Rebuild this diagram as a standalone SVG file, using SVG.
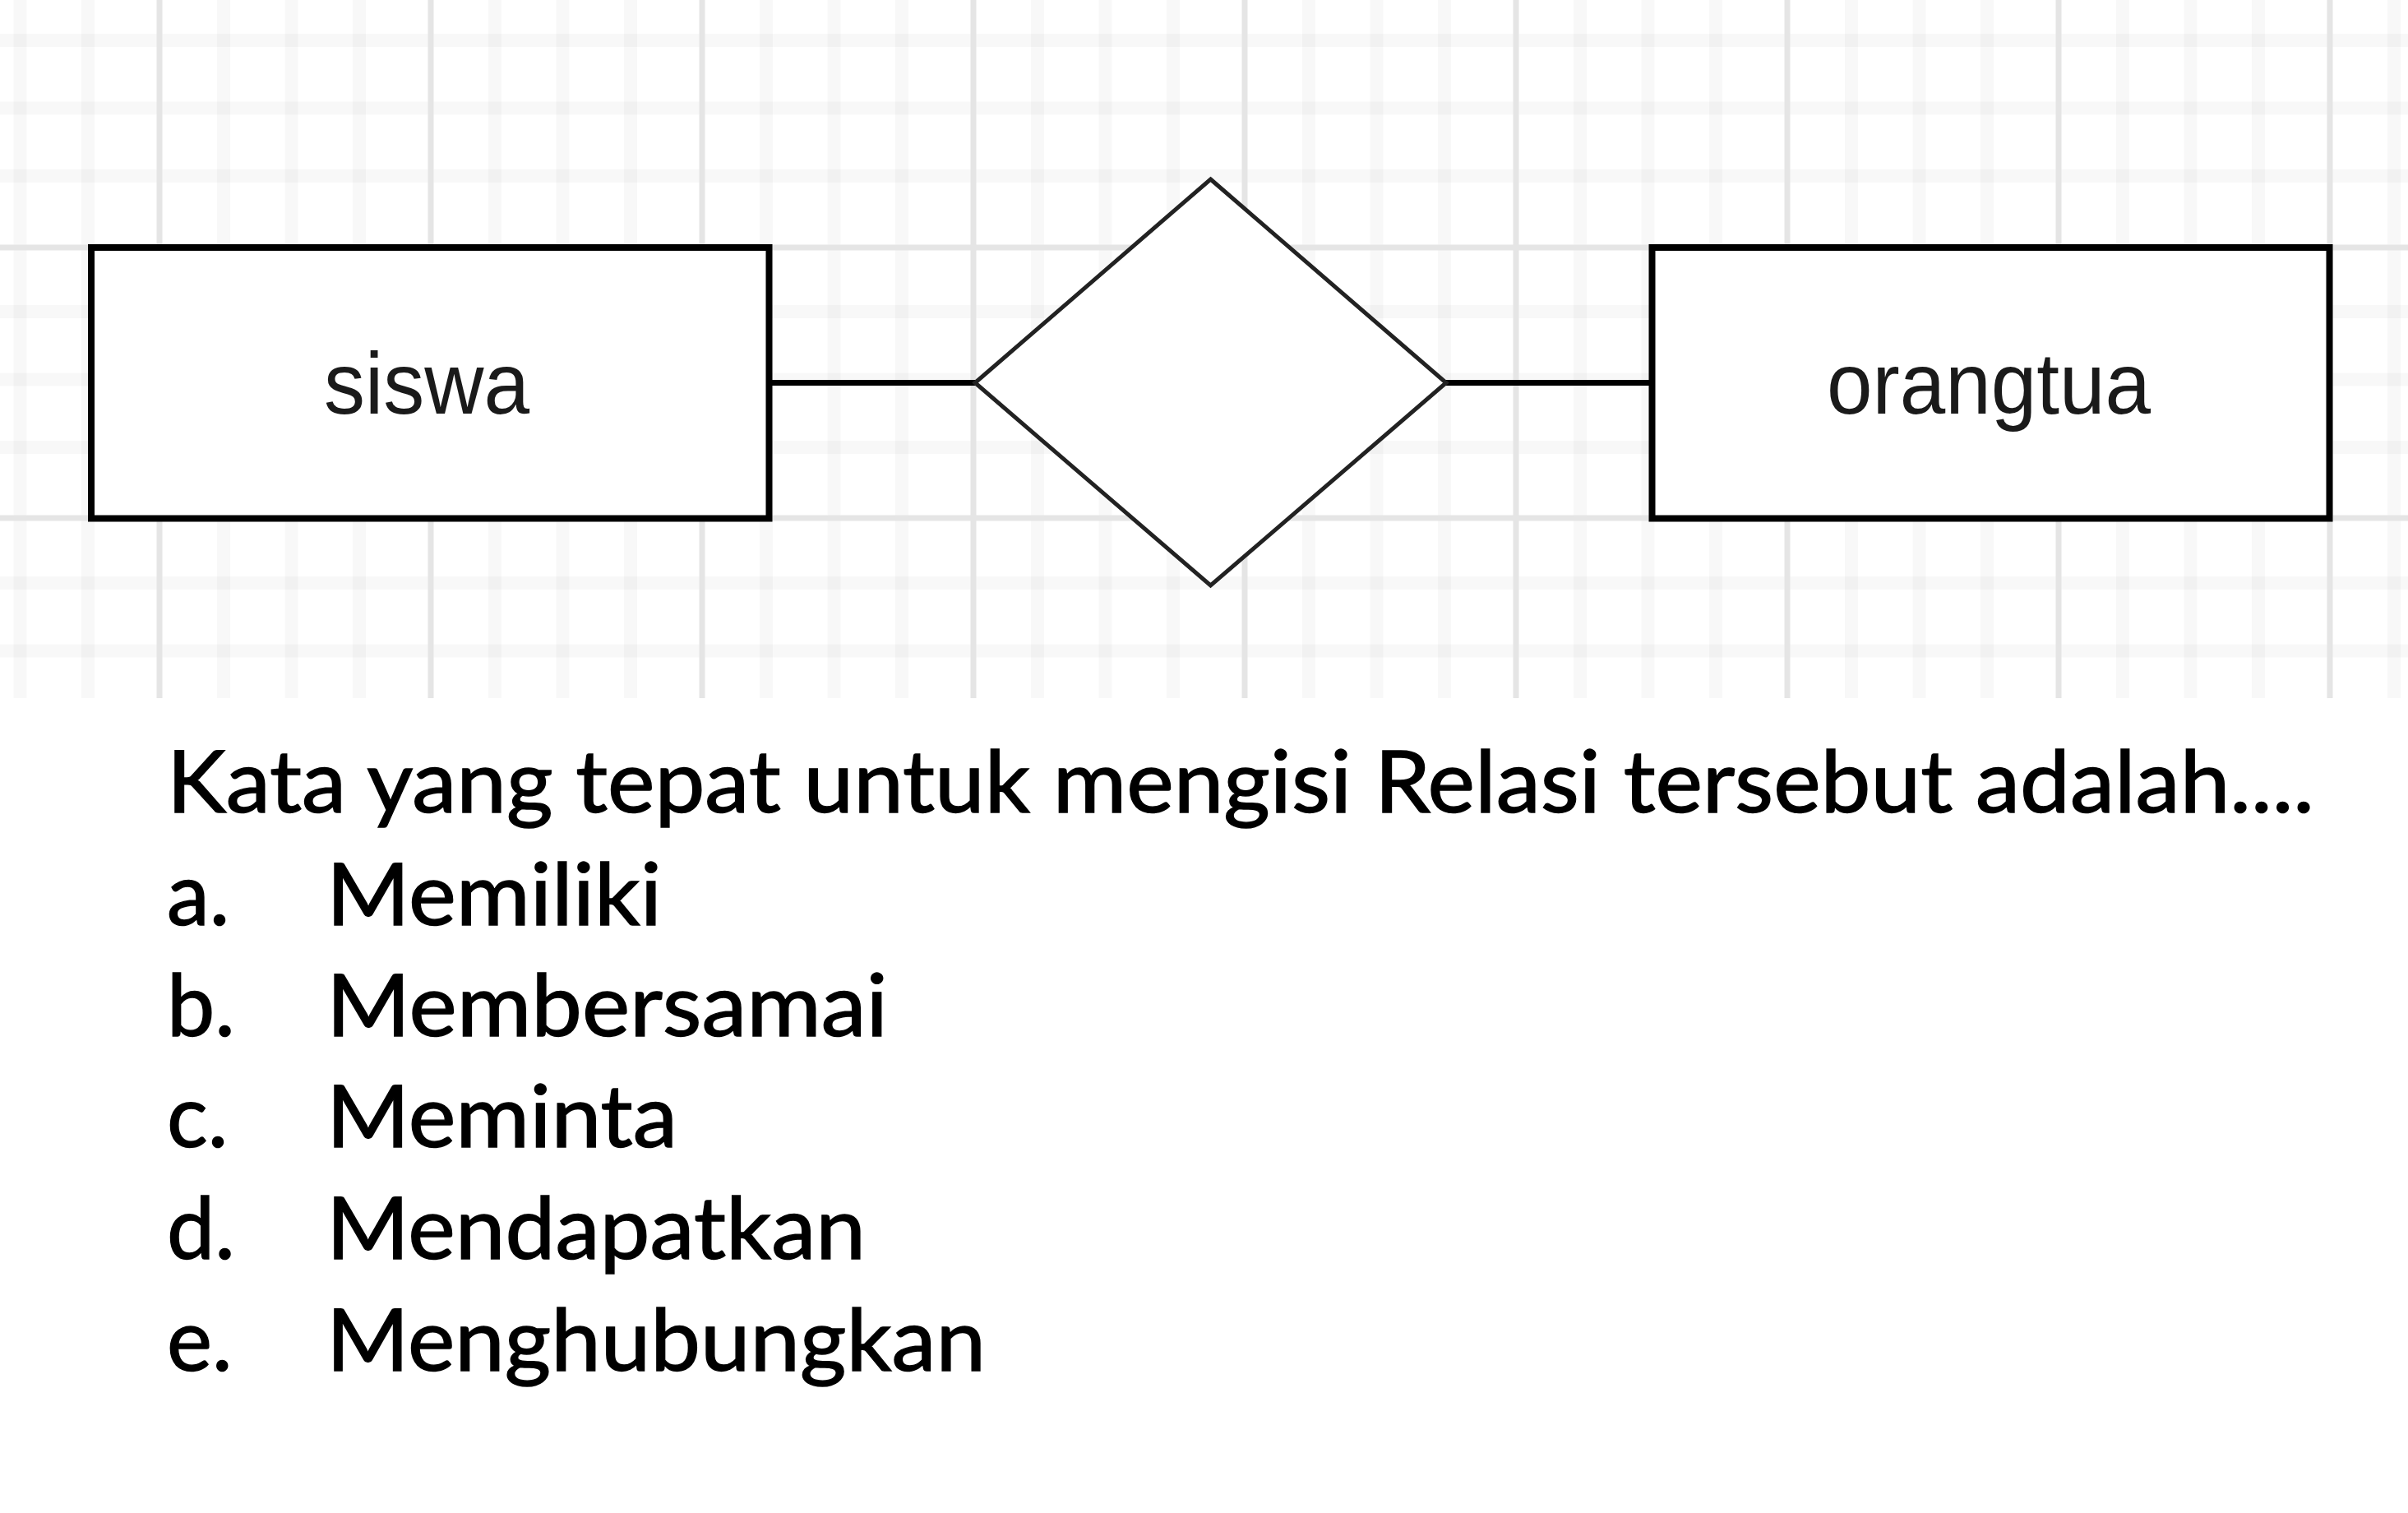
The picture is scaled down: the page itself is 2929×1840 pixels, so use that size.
<svg xmlns="http://www.w3.org/2000/svg" width="2929" height="1840" viewBox="0 0 2929 1840">
  <style>
    .minor { stroke: #000; stroke-opacity: 0.026; stroke-width: 16; fill: none; }
    .major { stroke: #e5e5e5; stroke-width: 7; fill: none; }
    .entity { fill: #ffffff; stroke: #000; stroke-width: 8; }
    .relation { fill: #ffffff; stroke: #222; stroke-width: 5; stroke-linejoin: miter; }
    .conn { stroke: #000; stroke-width: 7; fill: none; }
    .elabel { font-family: "Liberation Sans", Arial, sans-serif; font-size: 106px; fill: #1a1a1a; text-anchor: middle; }
    .q { font-family: Lato, "Open Sans", sans-serif; font-size: 104px; fill: #000; stroke: #000; stroke-width: 1.4px; }
  </style>
  <rect x="0" y="0" width="2929" height="1840" fill="#ffffff"/>

  <g id="grid">
    <path class="minor" d="M24.5 0V849 M107 0V849 M272 0V849 M354.5 0V849 M437 0V849 M602 0V849 M684.5 0V849 M767 0V849 M932 0V849 M1014.5 0V849 M1097 0V849 M1262 0V849 M1344.5 0V849 M1427 0V849 M1592 0V849 M1674.5 0V849 M1757 0V849 M1922 0V849 M2004.5 0V849 M2087 0V849 M2252 0V849 M2334.5 0V849 M2417 0V849 M2582 0V849 M2664.5 0V849 M2747 0V849 M2912 0V849"/>
    <path class="minor" d="M0 49H2929 M0 131.5H2929 M0 214H2929 M0 379H2929 M0 461.5H2929 M0 544H2929 M0 709H2929 M0 791.5H2929"/>
    <path class="major" d="M194 0V849 M524 0V849 M854 0V849 M1184 0V849 M1514 0V849 M1844 0V849 M2174 0V849 M2504 0V849 M2834 0V849 M0 301H2929 M0 630H2929"/>
  </g>

  <g id="connectors">
    <line class="conn" x1="935" y1="465.5" x2="1186" y2="465.5"/>
    <line class="conn" x1="1758" y1="465.5" x2="2010" y2="465.5"/>
  </g>

  <g id="node-siswa">
    <rect class="entity" x="111" y="301" width="824.5" height="329.5"/>
    <text class="elabel" x="519" y="503" textLength="250" lengthAdjust="spacingAndGlyphs">siswa</text>
  </g>

  <g id="node-relasi">
    <polygon class="relation" points="1472.5,218 1759,465.5 1472.5,712 1186,465.5"/>
  </g>

  <g id="node-orangtua">
    <rect class="entity" x="2009.5" y="301" width="824" height="329.5"/>
    <text class="elabel" x="2419" y="503" textLength="394" lengthAdjust="spacingAndGlyphs">orangtua</text>
  </g>

  <g id="question">
    <text class="q" x="203" y="988" textLength="2612" lengthAdjust="spacingAndGlyphs">Kata yang tepat untuk mengisi Relasi tersebut adalah....</text>
    <text class="q" x="203" y="1125">a.</text>
    <text class="q" x="397" y="1125" textLength="408" lengthAdjust="spacingAndGlyphs">Memiliki</text>
    <text class="q" x="203" y="1260">b.</text>
    <text class="q" x="397" y="1260" textLength="683" lengthAdjust="spacingAndGlyphs">Membersamai</text>
    <text class="q" x="203" y="1395">c.</text>
    <text class="q" x="397" y="1395" textLength="427" lengthAdjust="spacingAndGlyphs">Meminta</text>
    <text class="q" x="203" y="1531">d.</text>
    <text class="q" x="397" y="1531" textLength="656" lengthAdjust="spacingAndGlyphs">Mendapatkan</text>
    <text class="q" x="203" y="1667">e.</text>
    <text class="q" x="397" y="1667" textLength="802" lengthAdjust="spacingAndGlyphs">Menghubungkan</text>
  </g>
</svg>
